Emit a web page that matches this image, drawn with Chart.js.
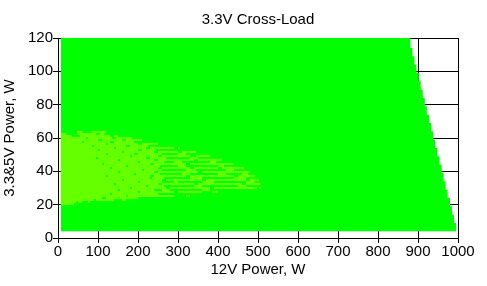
<!DOCTYPE html>
<html>
<head>
<meta charset="utf-8">
<script src="https://cdn.jsdelivr.net/npm/chart.js@4"></script>
<style>
    html, body { margin: 0; padding: 0; background: #fff; }
    #wrap { width: 487px; height: 286px; }
</style>
</head>
<body>
<div id="wrap"><canvas id="crossChart" width="487" height="286"></canvas></div>
<script>
// main (bright green) region: one row per 5W step of the 3.3&5V load
const mainLeft = 7;
const mainTop = 121;
const mainRowBottoms = [114, 109, 104, 99, 94, 89, 84, 79, 74, 69, 64, 59, 54, 49, 44, 39, 34, 29, 24, 19, 14, 9, 4];
const mainRowEdges = [881, 886, 891, 896, 902, 907, 912, 917, 922, 928, 933, 938, 943, 948, 954, 959, 964, 969, 974, 980, 985, 990, 996];

// yellow-green speckles: row centre (W) and [from, to] segments along 12V (W)
const speckRowY = [63.6, 62.4, 61.2, 60.0, 58.8, 57.6, 56.4, 55.2, 54.0, 52.8, 51.6, 50.4, 49.2, 48.0,
    46.8, 45.6, 44.4, 43.2, 42.0, 40.8, 39.6, 38.4, 37.2, 36.0, 34.8, 33.6, 32.4, 31.2, 30.0,
    28.8, 27.6, 26.4, 25.2, 24.0, 22.8, 21.6, 20.4];
const speckRowSegs = [
    [[47, 61], [85, 120]],
    [[7, 20], [50, 95], [105, 115]],
    [[7, 35], [55, 130], [140, 150]],
    [[7, 70], [75, 135], [145, 185]],
    [[7, 100], [110, 160], [170, 210]],
    [[7, 60], [65, 130], [140, 190]],
    [[7, 120], [125, 200], [210, 250]],
    [[7, 85], [90, 170], [180, 225]],
    [[7, 140], [145, 220], [230, 290], [300, 305]],
    [[7, 100], [105, 200], [210, 245]],
    [[7, 160], [165, 240], [250, 300], [310, 345]],
    [[7, 120], [125, 190], [200, 260], [300, 320]],
    [[7, 180], [185, 250], [260, 330], [345, 380]],
    [[7, 95], [100, 220], [230, 270], [330, 350]],
    [[7, 150], [155, 240], [250, 340], [350, 410]],
    [[7, 200], [205, 265], [290, 310], [380, 395]],
    [[7, 110], [115, 230], [240, 320], [330, 440]],
    [[7, 170], [175, 255], [300, 320], [400, 415]],
    [[7, 130], [135, 250], [260, 330], [340, 400], [410, 465]],
    [[7, 210], [215, 260], [320, 345], [420, 440]],
    [[7, 150], [155, 240], [250, 350], [360, 480]],
    [[7, 190], [195, 255], [310, 330], [400, 420], [460, 475]],
    [[7, 120], [125, 230], [240, 320], [330, 440], [450, 493]],
    [[7, 230], [235, 265], [330, 360], [440, 470]],
    [[7, 160], [165, 260], [270, 360], [370, 470], [480, 503]],
    [[7, 200], [205, 260], [290, 300], [360, 390], [470, 490]],
    [[7, 140], [145, 250], [260, 340], [350, 460], [470, 506]],
    [[7, 220], [225, 265], [340, 360], [450, 470]],
    [[7, 180], [185, 270], [280, 380], [390, 498], [503, 508]],
    [[7, 150], [155, 240], [260, 280], [360, 380]],
    [[7, 200], [205, 290], [300, 360], [385, 400]],
    [[7, 130], [135, 250]],
    [[7, 170], [175, 290], [320, 330]],
    [[7, 110], [120, 200]],
    [[7, 90], [95, 140], [160, 170]],
    [[7, 45], [50, 60], [75, 80]],
    [[7, 40]]
];

const fontFamily = "'Liberation Sans', Arial, sans-serif";
Chart.defaults.font.family = fontFamily;
Chart.defaults.font.size = 15;
Chart.defaults.color = "#000";

function buildOutline() {
    const pts = [{ x: mainLeft, y: mainTop }];
    let top = mainTop;
    for (let i = 0; i < mainRowEdges.length; i++) {
        pts.push({ x: mainRowEdges[i], y: top });
        pts.push({ x: mainRowEdges[i], y: mainRowBottoms[i] });
        top = mainRowBottoms[i];
    }
    return pts;
}

function buildSpeckles() {
    const out = [];
    speckRowY.forEach((y, i) => {
        speckRowSegs[i].forEach(seg => out.push({ y: y, x: seg }));
    });
    return out;
}

const ctx = document.getElementById("crossChart").getContext("2d");
new Chart(ctx, {
    type: "scatter",
    data: {
        datasets: [
            {
                type: "bar",
                indexAxis: "y",
                data: buildSpeckles(),
                backgroundColor: "#66ff00",
                borderWidth: 0,
                grouped: false,
                categoryPercentage: 1,
                barPercentage: 1.12,
                order: 1
            },
            {
                type: "line",
                data: buildOutline(),
                showLine: true,
                borderWidth: 0,
                borderColor: "rgba(0,0,0,0)",
                backgroundColor: "#00ff00",
                pointRadius: 0,
                tension: 0,
                fill: { value: mainRowBottoms[mainRowBottoms.length - 1] },
                order: 2
            }
        ]
    },
    options: {
        responsive: false,
        animation: false,
        events: [],
        layout: { padding: { left: 0, right: 29, top: 0, bottom: 0 } },
        plugins: {
            legend: { display: false },
            tooltip: { enabled: false },
            title: {
                display: true,
                text: "3.3V Cross-Load",
                fullSize: false,
                color: "#000",
                font: { size: 15, weight: "normal" },
                padding: { top: 11, bottom: 9 }
            }
        },
        scales: {
            x: {
                type: "linear",
                min: 0,
                max: 1000,
                offset: false,
                afterFit: s => { s.height = 48; },
                ticks: { stepSize: 100, maxRotation: 0, autoSkip: false, padding: 0, color: "#000",
                    callback: v => String(v) },
                grid: { color: "#000", lineWidth: 1, tickLength: 5, offset: false },
                border: { color: "#000", width: 1 },
                title: { display: true, text: "12V Power, W", color: "#000", padding: { top: 0, bottom: 7 } }
            },
            y: {
                type: "linear",
                min: 0,
                max: 120,
                offset: false,
                afterFit: s => { s.width = 58; },
                ticks: { stepSize: 20, padding: 0, color: "#000", callback: v => String(v) },
                grid: { color: "#000", lineWidth: 1, tickLength: 5, offset: false },
                border: { color: "#000", width: 1 },
                title: { display: true, text: "3.3&5V Power, W", color: "#000", padding: { top: 1, bottom: 0 } }
            }
        }
    }
});
</script>
</body>
</html>
